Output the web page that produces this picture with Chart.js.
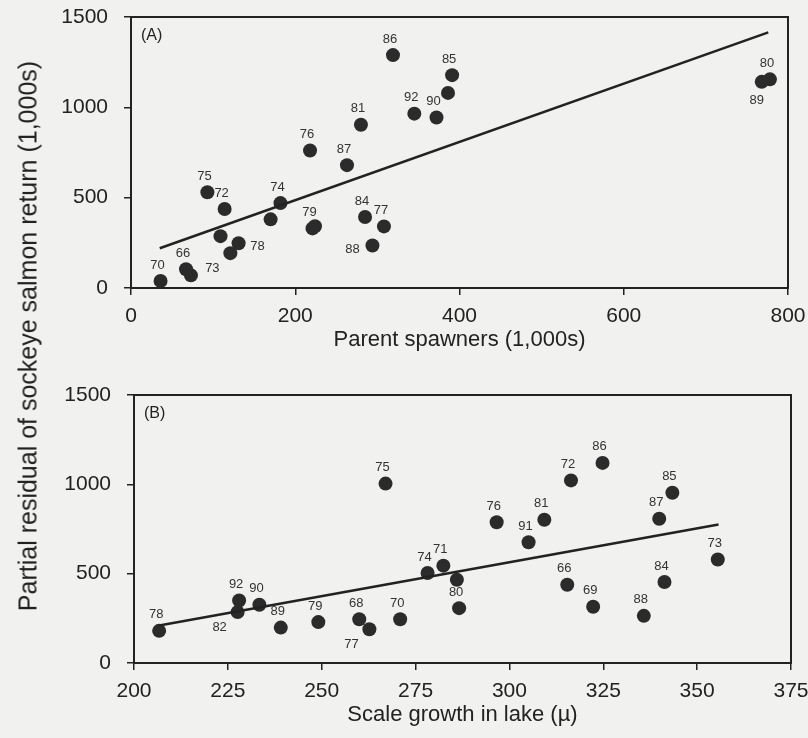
<!DOCTYPE html>
<html>
<head>
<meta charset="utf-8">
<script src="https://cdn.jsdelivr.net/npm/chart.js@4.4.1/dist/chart.umd.min.js"></script>
<style>
    html, body { margin: 0; padding: 0; background: #f1f1ef; }
    #wrap { position: relative; width: 808px; height: 738px; overflow: hidden; }
    #chartA { position: absolute; left: 0; top: 0; }
    #chartB { position: absolute; left: 0; top: 370px; }
    #yTitle {
        position: absolute; left: 28px; top: 336px; width: 700px;
        transform: translate(-50%, -50%) rotate(-90deg);
        text-align: center; white-space: nowrap;
        font: 25px Arial, "Liberation Sans", sans-serif; color: #222;
    }
</style>
</head>
<body>
<div id="wrap">
    <canvas id="chartA" width="808" height="360"></canvas>
    <canvas id="chartB" width="808" height="368"></canvas>
    <div id="yTitle">Partial residual of sockeye salmon return (1,000s)</div>
</div>
<script>
// Panel A: return vs parent spawners
const yearsA = ['70', '66', '', '75', '72', '74', '', '', '78', '73', '76', '79', '', '87', '81', '86', '84', '77', '88', '92', '90', '85', '', '80', '89'];
const spawnersA = [36, 67, 73, 93, 114, 182, 170, 109, 131, 121, 218, 221, 224, 263, 280, 319, 285, 308, 294, 345, 372, 391, 386, 778, 768];
const returnA = [39, 104, 70, 530, 437, 470, 380, 287, 248, 193, 761, 330, 342, 680, 904, 1289, 393, 341, 235, 965, 944, 1178, 1080, 1155, 1141];
const placeA = ['t', 't', '', 't', 't', 't', '', '', 'r', 'bl', 't', 't', '', 't', 't', 't', 't', 't', 'l', 't', 't', 't', '', 't', 'b'];
const fitAx = [35, 776];
const fitAy = [220, 1415];

// Panel B: residual vs scale growth in lake
const yearsB = ['78', '82', '92', '90', '89', '79', '68', '77', '70', '75', '74', '71', '', '80', '76', '91', '81', '72', '86', '66', '69', '88', '84', '87', '85', '73'];
const growthB = [206.7, 227.6, 228, 233.4, 239.1, 249.1, 260, 262.7, 270.9, 267, 278.2, 282.4, 286, 286.6, 296.6, 305.1, 309.3, 316.4, 324.8, 315.4, 322.3, 335.8, 341.3, 339.9, 343.4, 355.5];
const residB = [180, 285, 350, 326, 198, 229, 245, 189, 245, 1004, 504, 545, 466, 307, 788, 676, 802, 1022, 1120, 438, 315, 264, 453, 807, 953, 579];
const placeB = ['t', 'bl', 't', 't', 't', 't', 't', 'bl', 't', 't', 't', 't', '', 't', 't', 't', 't', 't', 't', 't', 't', 't', 't', 't', 't', 't'];
const fitBx = [206.7, 355.7];
const fitBy = [210, 775];

const yTicks = [0, 500, 1000, 1500];

const ink = '#222';
const dot = '#2b2b2b';
const fontName = 'Arial, "Liberation Sans", sans-serif';

const labelOffsets = {
    t: [-3, -16],
    b: [-5, 19],
    r: [19, 3],
    l: [-20, 4],
    bl: [-18, 15]
};

function toPoints(xs, ys) {
    return xs.map(function(x, i) { return { x: x, y: ys[i] }; });
}

// draws the box, the year labels and the panel letter
function panelPlugin(panelName, years, places) {
    return {
        id: 'panel' + panelName,
        afterDatasetsDraw: function(chart) {
            const ctx = chart.ctx;
            const area = chart.chartArea;
            ctx.save();
            ctx.strokeStyle = ink;
            ctx.lineWidth = 2;
            ctx.strokeRect(area.left, area.top, area.right - area.left, area.bottom - area.top);

            ctx.fillStyle = ink;
            ctx.font = '16px ' + fontName;
            ctx.textAlign = 'left';
            ctx.textBaseline = 'middle';
            ctx.fillText('(' + panelName + ')', area.left + 10, area.top + 19);

            const meta = chart.getDatasetMeta(1);
            ctx.font = '13px ' + fontName;
            ctx.fillStyle = '#333';
            ctx.textAlign = 'center';
            meta.data.forEach(function(pt, i) {
                if (!years[i]) return;
                const off = labelOffsets[places[i]] || labelOffsets.t;
                ctx.fillText(years[i], pt.x + off[0], pt.y + off[1]);
            });
            ctx.restore();
        }
    };
}

function makeChart(canvasId, opts) {
    const ctx = document.getElementById(canvasId).getContext('2d');
    return new Chart(ctx, {
        type: 'scatter',
        data: {
            datasets: [{
                type: 'line',
                data: toPoints(opts.fitX, opts.fitY),
                borderColor: ink,
                borderWidth: 2.5,
                pointRadius: 0,
                fill: false
            }, {
                data: toPoints(opts.xs, opts.ys),
                backgroundColor: dot,
                borderColor: dot,
                borderWidth: 0,
                pointRadius: 7,
                pointHoverRadius: 7
            }]
        },
        options: {
            responsive: false,
            animation: false,
            layout: { padding: opts.padding },
            plugins: {
                legend: { display: false },
                tooltip: { enabled: false }
            },
            scales: {
                x: {
                    type: 'linear',
                    min: opts.xMin,
                    max: opts.xMax,
                    afterFit: function(s) {
                        s.height = opts.xHeight;
                        s.paddingLeft = 0;
                        s.paddingRight = 0;
                    },
                    afterBuildTicks: function(s) {
                        s.ticks = opts.xTicks.map(function(v) { return { value: v }; });
                    },
                    ticks: {
                        color: ink,
                        padding: 9,
                        maxRotation: 0,
                        autoSkip: false,
                        font: { family: fontName, size: 21 }
                    },
                    grid: {
                        drawOnChartArea: false,
                        drawTicks: true,
                        tickLength: 7,
                        color: ink,
                        lineWidth: 1.5
                    },
                    border: { display: true, color: ink, width: 2 },
                    title: {
                        display: true,
                        text: opts.xTitle,
                        color: ink,
                        padding: { top: 0, bottom: opts.titlePad },
                        font: { family: fontName, size: 22 }
                    }
                },
                y: {
                    type: 'linear',
                    min: 0,
                    max: 1500,
                    afterFit: function(s) {
                        s.width = opts.yWidth;
                        s.paddingTop = 0;
                        s.paddingBottom = 0;
                    },
                    afterBuildTicks: function(s) {
                        s.ticks = yTicks.map(function(v) { return { value: v }; });
                    },
                    ticks: {
                        color: ink,
                        padding: 16,
                        font: { family: fontName, size: 21 },
                        callback: function(v) { return String(v); }
                    },
                    grid: {
                        drawOnChartArea: false,
                        drawTicks: true,
                        tickLength: 7,
                        color: ink,
                        lineWidth: 1.5
                    },
                    border: { display: true, color: ink, width: 2 }
                }
            }
        },
        plugins: [panelPlugin(opts.name, opts.years, opts.places)]
    });
}

makeChart('chartA', {
    name: 'A',
    xs: spawnersA, ys: returnA, years: yearsA, places: placeA,
    fitX: fitAx, fitY: fitAy,
    xMin: 0, xMax: 800, xTicks: [0, 200, 400, 600, 800],
    xTitle: 'Parent spawners (1,000s)',
    padding: { top: 17, right: 20, left: 0, bottom: 0 },
    yWidth: 131, xHeight: 72, titlePad: 7
});

makeChart('chartB', {
    name: 'B',
    xs: growthB, ys: residB, years: yearsB, places: placeB,
    fitX: fitBx, fitY: fitBy,
    xMin: 200, xMax: 375, xTicks: [200, 225, 250, 275, 300, 325, 350, 375],
    xTitle: 'Scale growth in lake (\u00b5)',
    padding: { top: 25, right: 17, left: 0, bottom: 0 },
    yWidth: 134, xHeight: 75, titlePad: 10
});
</script>
</body>
</html>
